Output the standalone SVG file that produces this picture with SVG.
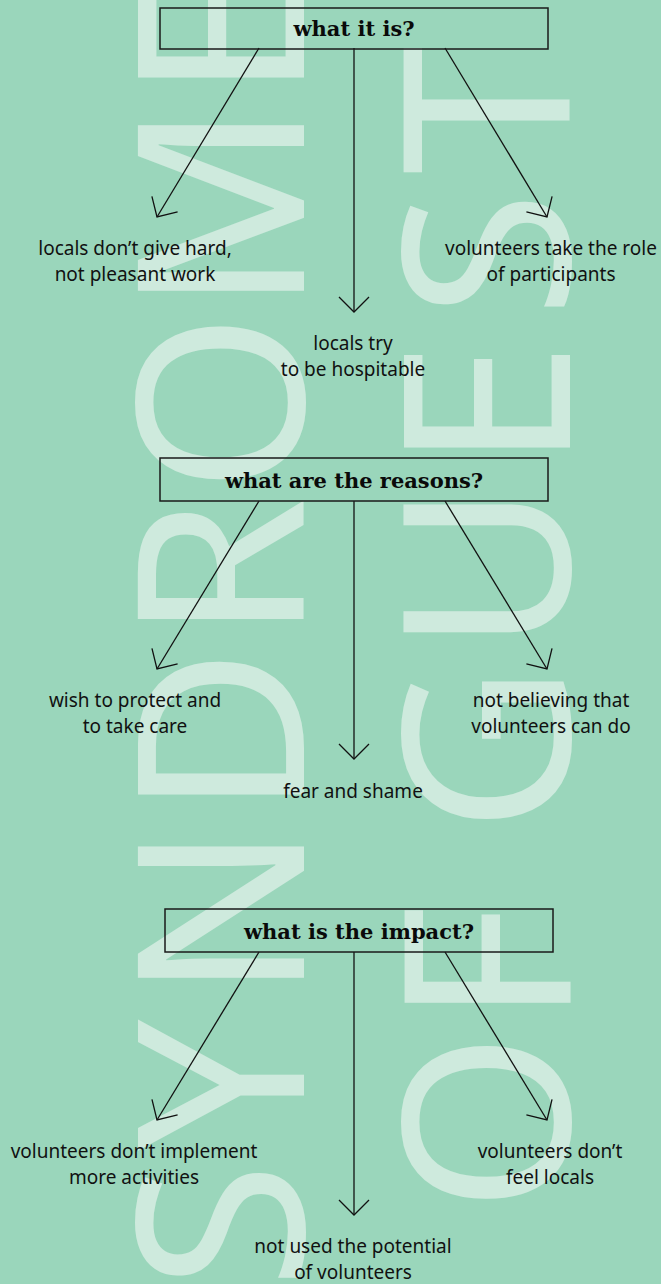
<svg xmlns="http://www.w3.org/2000/svg" width="661" height="1284" viewBox="0 0 661 1284">
<defs>
<style>
.bg{fill:#9AD6BB}
.wm{fill:#CEEADD;font-family:"Noto Sans",sans-serif;font-size:232px;font-weight:400}
.box{fill:none;stroke:#1a1a1a;stroke-width:1.5}
.ttl{font-family:"DejaVu Serif",serif;font-weight:bold;font-size:21px;fill:#0a0a0a;text-anchor:middle}
.lbl{font-family:"Noto Sans",sans-serif;font-size:19px;fill:#111;text-anchor:middle}
.ln{fill:none;stroke:#111;stroke-width:1.3;marker-end:url(#arr)}
</style>
<marker id="arr" markerUnits="userSpaceOnUse" markerWidth="40" markerHeight="40" refX="0" refY="0" orient="auto" viewBox="-20 -20 40 40" overflow="visible">
<path d="M-15,-15 L0,0 L-15,15" fill="none" stroke="#111" stroke-width="1.3"/>
</marker>
</defs>
<rect class="bg" x="0" y="0" width="661" height="1284"/>
<g id="watermark">
<text class="wm" transform="translate(304 0) rotate(-90)" x="-1289.6 -1150.7 -1000.2 -817.1 -641.4 -493.5 -313.2 -99.9" y="0">SYNDROME</text>
<text class="wm" transform="translate(570 0) rotate(-90)" x="-1213 -1025.3 -950 -833.2 -653.1 -469.9 -318.2 -174.6" y="0">OF GUEST</text>
</g>
<g id="connectors">
<line class="ln" x1="259" y1="48" x2="157" y2="217"/>
<line class="ln" x1="354" y1="48" x2="354" y2="312"/>
<line class="ln" x1="445" y1="48" x2="547" y2="217"/>
<line class="ln" x1="259" y1="501" x2="157" y2="669"/>
<line class="ln" x1="354" y1="501" x2="354" y2="759"/>
<line class="ln" x1="445" y1="501" x2="547" y2="669"/>
<line class="ln" x1="259" y1="952" x2="157" y2="1120"/>
<line class="ln" x1="354" y1="952" x2="354" y2="1215"/>
<line class="ln" x1="445" y1="952" x2="547" y2="1120"/>
</g>
<g id="q1">
<rect class="box" x="160" y="8" width="388" height="41"/>
<text class="ttl" x="354" y="36">what it is?</text>
</g>
<g id="a1">
<text class="lbl" x="135" y="255">locals don’t give hard,</text>
<text class="lbl" x="135" y="281">not pleasant work</text>
</g>
<g id="a2">
<text class="lbl" x="551" y="255">volunteers take the role</text>
<text class="lbl" x="551" y="281">of participants</text>
</g>
<g id="a3">
<text class="lbl" x="353" y="350">locals try</text>
<text class="lbl" x="353" y="376">to be hospitable</text>
</g>
<g id="q2">
<rect class="box" x="160" y="458" width="388" height="43"/>
<text class="ttl" x="354" y="488">what are the reasons?</text>
</g>
<g id="b1">
<text class="lbl" x="135" y="707">wish to protect and</text>
<text class="lbl" x="135" y="733">to take care</text>
</g>
<g id="b2">
<text class="lbl" x="551" y="707">not believing that</text>
<text class="lbl" x="551" y="733">volunteers can do</text>
</g>
<g id="b3">
<text class="lbl" x="353" y="798">fear and shame</text>
</g>
<g id="q3">
<rect class="box" x="165" y="909" width="388" height="43"/>
<text class="ttl" x="359" y="939">what is the impact?</text>
</g>
<g id="c1">
<text class="lbl" x="134" y="1158">volunteers don’t implement</text>
<text class="lbl" x="134" y="1184">more activities</text>
</g>
<g id="c2">
<text class="lbl" x="550" y="1158">volunteers don’t</text>
<text class="lbl" x="550" y="1184">feel locals</text>
</g>
<g id="c3">
<text class="lbl" x="353" y="1253">not used the potential</text>
<text class="lbl" x="353" y="1279">of volunteers</text>
</g>
</svg>
